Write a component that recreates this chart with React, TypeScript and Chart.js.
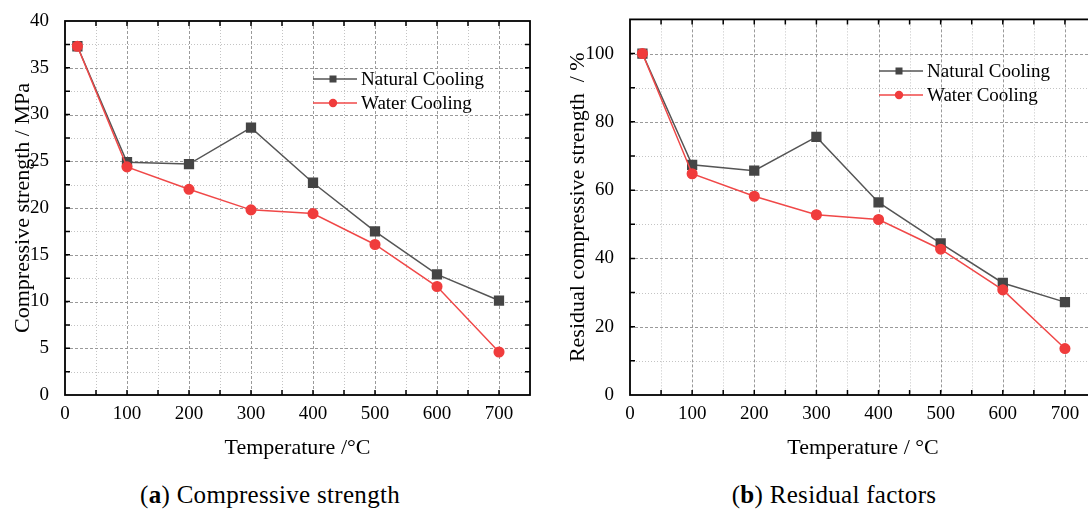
import React, { useEffect, useRef } from 'react';
import { Chart, registerables } from 'chart.js';

Chart.register(...registerables);

// ---------- data ----------
const temperatures = [20, 100, 200, 300, 400, 500, 600, 700];
const strengthNatural = [37.3, 24.9, 24.7, 28.6, 22.7, 17.5, 12.9, 10.1];
const strengthWater = [37.3, 24.4, 22.0, 19.8, 19.4, 16.1, 11.6, 4.6];
const residualNatural = [100, 67.4, 65.7, 75.6, 56.4, 44.4, 32.8, 27.2];
const residualWater = [100, 64.8, 58.2, 52.8, 51.4, 42.7, 30.8, 13.6];
const seriesNames = ['Natural Cooling', 'Water Cooling'];
const xTickValues = [0, 100, 200, 300, 400, 500, 600, 700];
const strengthTickValues = [0, 5, 10, 15, 20, 25, 30, 35, 40];
const residualTickValues = [0, 20, 40, 60, 80, 100];

const FONT = '"Liberation Serif", "Times New Roman", serif';
const NATURAL_LINE = '#555555';
const NATURAL_MARK = '#454545';
const WATER_LINE = '#f04848';
const WATER_MARK = '#f03c3c';

type PanelProps = {
  width: number;
  height: number;
  areaLeft: number;
  areaTop: number;
  areaBottom: number;
  padRight: number;
  xMax: number;
  yMax: number;
  yTicks: number[];
  yMajor: number;
  yMinor: number;
  natural: number[];
  water: number[];
  xTitle: string;
  yTitle: string;
  yTitlePad: number;
  legendX: number;
  legendY: number;
  legendGap: number;
};

function Panel(p: PanelProps) {
  const ref = useRef<HTMLCanvasElement | null>(null);
  useEffect(() => {
    if (!ref.current) return;
    const toPts = (arr: number[]) => temperatures.map((t, i) => ({ x: t, y: arr[i] }));

    const decor = {
      id: 'decor',
      beforeDatasetsDraw(chart: any) {
        const { ctx, chartArea: a, scales } = chart;
        const xs = scales.x;
        const ys = scales.y;
        ctx.save();
        ctx.lineWidth = 1;
        // vertical grid
        for (let v = 50; v < p.xMax - 1e-6; v += 50) {
          const major = Math.abs(v % 100) < 1e-6;
          const px = Math.round(xs.getPixelForValue(v)) + 0.5;
          ctx.strokeStyle = major ? '#9a9a9a' : '#c4c4c4';
          ctx.setLineDash(major ? [3, 2] : [1, 2]);
          ctx.beginPath();
          ctx.moveTo(px, a.top);
          ctx.lineTo(px, a.bottom);
          ctx.stroke();
        }
        // horizontal grid
        for (let v = p.yMinor; v < p.yMax - 1e-6; v += p.yMinor) {
          const major = Math.abs(v / p.yMajor - Math.round(v / p.yMajor)) < 1e-6;
          const py = Math.round(ys.getPixelForValue(v)) + 0.5;
          ctx.strokeStyle = major ? '#9a9a9a' : '#c4c4c4';
          ctx.setLineDash(major ? [3, 2] : [1, 2]);
          ctx.beginPath();
          ctx.moveTo(a.left, py);
          ctx.lineTo(a.right, py);
          ctx.stroke();
        }
        ctx.restore();
      },
      afterDraw(chart: any) {
        const { ctx, chartArea: a, scales } = chart;
        const xs = scales.x;
        const ys = scales.y;
        ctx.save();
        ctx.setLineDash([]);
        ctx.strokeStyle = '#000';
        ctx.lineWidth = 1.5;
        const tl = 5;
        for (let v = 50; v < p.xMax - 1e-6; v += 50) {
          const px = xs.getPixelForValue(v);
          ctx.beginPath();
          ctx.moveTo(px, a.bottom);
          ctx.lineTo(px, a.bottom - tl);
          ctx.moveTo(px, a.top);
          ctx.lineTo(px, a.top + tl);
          ctx.stroke();
        }
        for (let v = p.yMinor; v < p.yMax - 1e-6; v += p.yMinor) {
          const py = ys.getPixelForValue(v);
          ctx.beginPath();
          ctx.moveTo(a.left, py);
          ctx.lineTo(a.left + tl, py);
          ctx.moveTo(a.right, py);
          ctx.lineTo(a.right - tl, py);
          ctx.stroke();
        }
        ctx.lineWidth = 1.8;
        ctx.strokeRect(a.left, a.top, a.right - a.left, a.bottom - a.top);

        // legend
        const items = [
          { name: seriesNames[0], line: NATURAL_LINE, mark: NATURAL_MARK, shape: 'rect' },
          { name: seriesNames[1], line: WATER_LINE, mark: WATER_MARK, shape: 'circle' },
        ];
        items.forEach((it, i) => {
          const yy = p.legendY + i * p.legendGap;
          ctx.strokeStyle = it.line;
          ctx.lineWidth = 1.5;
          ctx.beginPath();
          ctx.moveTo(p.legendX, yy);
          ctx.lineTo(p.legendX + 44, yy);
          ctx.stroke();
          ctx.fillStyle = it.mark;
          if (it.shape === 'rect') {
            ctx.fillRect(p.legendX + 20 - 3.5, yy - 3.5, 7, 7);
          } else {
            ctx.beginPath();
            ctx.arc(p.legendX + 20, yy, 4.2, 0, Math.PI * 2);
            ctx.fill();
          }
          ctx.fillStyle = '#000';
          ctx.font = `19px ${FONT}`;
          ctx.textBaseline = 'middle';
          ctx.textAlign = 'left';
          ctx.fillText(it.name, p.legendX + 48, yy + 1);
        });
        ctx.restore();
      },
    };

    const chart = new Chart(ref.current, {
      type: 'line',
      data: {
        datasets: [
          {
            label: seriesNames[1],
            data: toPts(p.water),
            borderColor: WATER_LINE,
            backgroundColor: WATER_MARK,
            pointBackgroundColor: WATER_MARK,
            pointBorderColor: WATER_MARK,
            pointStyle: 'circle',
            pointRadius: 4.8,
            borderWidth: 1.5,
            order: 0,
          },
          {
            label: seriesNames[0],
            data: toPts(p.natural),
            borderColor: NATURAL_LINE,
            backgroundColor: NATURAL_MARK,
            pointBackgroundColor: NATURAL_MARK,
            pointBorderColor: NATURAL_MARK,
            pointStyle: 'rect',
            pointRadius: 6.2,
            borderWidth: 1.5,
            order: 1,
          },
        ],
      },
      options: {
        responsive: false,
        animation: false,
        devicePixelRatio: 1,
        layout: { padding: { top: p.areaTop, right: p.padRight, left: 0, bottom: 0 } },
        plugins: { legend: { display: false }, tooltip: { enabled: false } },
        scales: {
          x: {
            type: 'linear',
            min: 0,
            max: p.xMax,
            afterBuildTicks: (s: any) => {
              s.ticks = xTickValues.map((v) => ({ value: v }));
            },
            afterFit: (s: any) => {
              s.height = p.height - p.areaBottom;
            },
            grid: { display: false },
            border: { display: false },
            ticks: {
              color: '#000',
              font: { family: FONT, size: 19 },
              padding: 0,
              maxRotation: 0,
              autoSkip: false,
            },
            title: {
              display: true,
              text: p.xTitle,
              color: '#000',
              font: { family: FONT, size: 22 },
              padding: { top: 0, bottom: 9 },
            },
          },
          y: {
            type: 'linear',
            min: 0,
            max: p.yMax,
            afterBuildTicks: (s: any) => {
              s.ticks = p.yTicks.map((v) => ({ value: v }));
            },
            afterFit: (s: any) => {
              s.width = p.areaLeft;
            },
            grid: { display: false },
            border: { display: false },
            ticks: {
              color: '#000',
              font: { family: FONT, size: 19 },
              padding: 8,
              autoSkip: false,
            },
            title: {
              display: true,
              text: p.yTitle,
              color: '#000',
              font: { family: FONT, size: 22 },
              padding: { top: p.yTitlePad, bottom: 0 },
            },
          },
        },
      },
      plugins: [decor],
    } as any);
    return () => chart.destroy();
  }, []);
  return <canvas ref={ref} width={p.width} height={p.height} style={{ display: 'block' }} />;
}

export default function App() {
  const captionStyle: React.CSSProperties = {
    position: 'absolute',
    top: 480,
    textAlign: 'center',
    fontFamily: FONT,
    fontSize: 25,
    letterSpacing: '0.3px',
    lineHeight: '30px',
    color: '#000',
    whiteSpace: 'nowrap',
  };
  return (
    <div
      style={{
        position: 'absolute',
        left: 0,
        top: 0,
        width: 1088,
        height: 509,
        overflow: 'hidden',
        background: '#fff',
      }}
    >
      <div style={{ position: 'absolute', left: 0, top: 0 }}>
        <Panel
          width={545}
          height={470}
          areaLeft={65}
          areaTop={21}
          areaBottom={395}
          padRight={15}
          xMax={750}
          yMax={40}
          yTicks={strengthTickValues}
          yMajor={5}
          yMinor={2.5}
          natural={strengthNatural}
          water={strengthWater}
          xTitle="Temperature /°C"
          yTitle="Compressive strength / MPa"
          yTitlePad={10}
          legendX={313}
          legendY={79}
          legendGap={24}
        />
      </div>
      <div style={{ position: 'absolute', left: 545, top: 0 }}>
        <Panel
          width={560}
          height={470}
          areaLeft={85}
          areaTop={18}
          areaBottom={395}
          padRight={9}
          xMax={750}
          yMax={110}
          yTicks={residualTickValues}
          yMajor={20}
          yMinor={10}
          natural={residualNatural}
          water={residualWater}
          xTitle="Temperature / °C"
          yTitle="Residual compressive strength  / %"
          yTitlePad={20}
          legendX={334}
          legendY={71}
          legendGap={24}
        />
      </div>
      <div style={{ ...captionStyle, left: 2, width: 536 }}>
        (<b>a</b>) Compressive strength
      </div>
      <div style={{ ...captionStyle, left: 634, width: 400 }}>
        (<b>b</b>) Residual factors
      </div>
    </div>
  );
}
